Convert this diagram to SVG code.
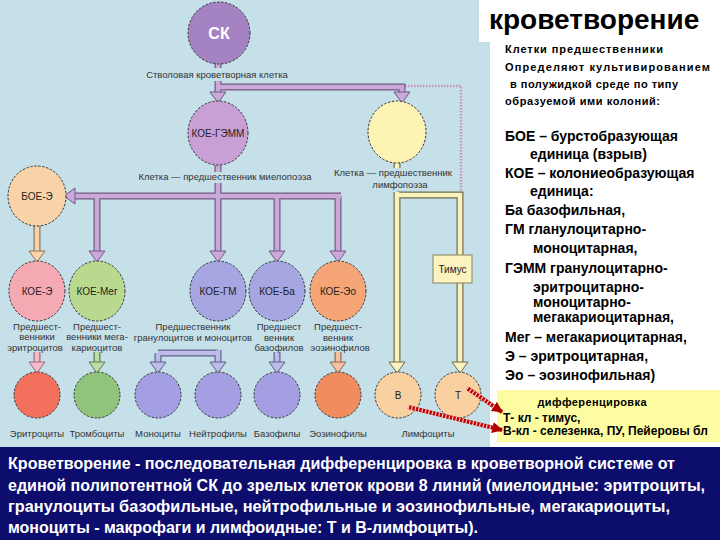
<svg xmlns="http://www.w3.org/2000/svg" xmlns:xlink="http://www.w3.org/1999/xlink" width="720" height="540" viewBox="0 0 720 540">
<style>
text{font-family:"Liberation Sans",Arial,sans-serif}
.cell{stroke:#333;stroke-width:1;stroke-dasharray:2.5 1.5}
.lbl{font-size:10px;fill:#222;text-anchor:middle}
.cap{font-size:9.5px;fill:#333;text-anchor:middle}
.bo{fill:none;stroke-width:7;stroke-linecap:butt;stroke-linejoin:miter}
.bi{fill:none;stroke-width:4.6;stroke-linecap:butt;stroke-linejoin:miter}
.lavO{stroke:#6e5a80}.lavI{stroke:#caa9d9}
.yelO{stroke:#6e6a50}.yelI{stroke:#faf2bc}
.peaO{stroke:#8a7460}.peaI{stroke:#f8d4a8}
.pnkO{stroke:#9a6a78}.pnkI{stroke:#f4bccb}
.grnO{stroke:#5f7a50}.grnI{stroke:#bddca6}
.bluO{stroke:#60608a}.bluI{stroke:#bcbce9}
.orgO{stroke:#8a6a58}.orgI{stroke:#f6c0a0}
.ah{stroke-width:1}
.rt{font-size:14px;font-weight:bold;fill:#000}
.st{font-size:11px;font-weight:bold;fill:#000}
.bt{font-size:16px;font-weight:bold;fill:#fff}
</style>
<defs>
<path id="ahd" d="M-8,-11 H8 L0,0 Z"/>
<marker id="redarrow" viewBox="0 0 10 10" refX="9" refY="5" markerWidth="11" markerHeight="11" markerUnits="userSpaceOnUse" orient="auto">
<path d="M0,0 L10,5 L0,10 Z" fill="#b00000"/>
</marker>
</defs>

<!-- backgrounds -->
<rect x="0" y="0" width="490" height="447" fill="#c6e0e9"/>
<rect x="490" y="0" width="230" height="447" fill="#ffffff"/>
<rect x="479" y="0" width="241" height="42" fill="#ffffff"/>
<rect x="497" y="390" width="223" height="52" fill="#fdfca0"/>
<rect x="0" y="447" width="720" height="93" fill="#0d0d6d"/>

<g id="connectors">
<!-- pink dotted outline of lymphoid area -->
<path d="M402,86 H461 V194" fill="none" stroke="#c88fc0" stroke-width="2.5" stroke-dasharray="1.5 1.5"/>
<!-- myeloid lavender bands -->
<g class="bo lavO">
<path d="M218,63 V68"/><path d="M218,81 V93"/><path d="M218,87 H402 V93"/>
<path d="M218,165 V172"/><path d="M218,183 V251"/><path d="M74,196 H341"/>
<path d="M97,196 V251"/><path d="M277,196 V251"/><path d="M338,196 V251"/>
</g>
<g class="bi lavI">
<path d="M218,63 V68"/><path d="M218,81 V93"/><path d="M218,87 H402 V93"/>
<path d="M218,165 V172"/><path d="M218,183 V251"/><path d="M74,196 H341"/>
<path d="M97,196 V251"/><path d="M277,196 V251"/><path d="M338,196 V251"/>
</g>
<g fill="#caa9d9" stroke="#6e5a80" class="ah">
<use xlink:href="#ahd" transform="translate(218,103)"/>
<use xlink:href="#ahd" transform="translate(402,103)"/>
<use xlink:href="#ahd" transform="translate(97,262)"/>
<use xlink:href="#ahd" transform="translate(218,262)"/>
<use xlink:href="#ahd" transform="translate(277,262)"/>
<use xlink:href="#ahd" transform="translate(338,262)"/>
<use xlink:href="#ahd" transform="translate(64,196) rotate(90)"/>
</g>
<!-- peach BOE-E to KOE-E -->
<path class="bo peaO" d="M37,226 V251"/><path class="bi peaI" d="M37,226 V251"/>
<use xlink:href="#ahd" transform="translate(37,262)" fill="#f8d4a8" stroke="#8a7460"/>
<!-- lymphoid yellow bands -->
<g class="bo yelO"><path d="M397,163 V168"/><path d="M397,192 V362"/><path d="M397,195 H460 V362"/></g>
<g class="bi yelI"><path d="M397,163 V168"/><path d="M397,192 V362"/><path d="M397,195 H460 V362"/></g>
<g fill="#faf2bc" stroke="#6e6a50" class="ah">
<use xlink:href="#ahd" transform="translate(397,373)"/>
<use xlink:href="#ahd" transform="translate(460,373)"/>
</g>
<!-- bottom arrows -->
<path class="bo pnkO" d="M37,352 V362"/><path class="bi pnkI" d="M37,352 V362"/>
<use xlink:href="#ahd" transform="translate(37,373)" fill="#f4bccb" stroke="#9a6a78"/>
<path class="bo grnO" d="M97,352 V362"/><path class="bi grnI" d="M97,352 V362"/>
<use xlink:href="#ahd" transform="translate(97,373)" fill="#bddca6" stroke="#5f7a50"/>
<g class="bo bluO"><path d="M218,350 V362"/><path d="M158,353 H218"/><path d="M158,353 V362"/><path d="M277,352 V362"/></g>
<g class="bi bluI"><path d="M218,350 V362"/><path d="M158,353 H218"/><path d="M158,353 V362"/><path d="M277,352 V362"/></g>
<g fill="#bcbce9" stroke="#60608a" class="ah">
<use xlink:href="#ahd" transform="translate(158,373)"/>
<use xlink:href="#ahd" transform="translate(218,373)"/>
<use xlink:href="#ahd" transform="translate(277,373)"/>
</g>
<path class="bo orgO" d="M338,352 V362"/><path class="bi orgI" d="M338,352 V362"/>
<use xlink:href="#ahd" transform="translate(338,373)" fill="#f6c0a0" stroke="#8a6a58"/>
</g>

<g id="thymus">
<rect x="433" y="255" width="39" height="28" fill="#fcf3c0" stroke="#8a8060" stroke-width="1"/>
<text class="lbl" x="452.5" y="273">Тимус</text>
</g>

<g id="sk">
<ellipse class="cell" cx="219" cy="33" rx="31" ry="31" fill="#a583c3"/>
<text x="219" y="39" font-size="16" font-weight="bold" fill="#fff" text-anchor="middle">СК</text>
<text class="cap" x="217" y="78">Стволовая кроветворная клетка</text>
</g>
<g id="koe-gemm">
<ellipse class="cell" cx="218" cy="133" rx="30" ry="32" fill="#c9a0d6"/>
<text class="lbl" x="218" y="137">КОЕ-ГЭММ</text>
<text class="cap" x="225" y="180">Клетка — предшественник миелопоэза</text>
</g>
<g id="lymph-precursor">
<ellipse class="cell" cx="397" cy="132" rx="29" ry="31" fill="#fcf3b4"/>
<text class="cap" x="393" y="176">Клетка — предшественник</text>
<text class="cap" x="400" y="188">лимфопоэза</text>
</g>
<g id="boe-e">
<ellipse class="cell" cx="37" cy="196" rx="29" ry="30" fill="#f9d3a7"/>
<text class="lbl" x="37" y="200">БОЕ-Э</text>
</g>
<g id="koe-e">
<ellipse class="cell" cx="37" cy="291" rx="28" ry="30" fill="#f4a9b3"/>
<text class="lbl" x="37" y="295">КОЕ-Э</text>
<text class="cap" x="37" y="330">Предшест-</text>
<text class="cap" x="37" y="340">венники</text>
<text class="cap" x="35" y="351">эритроцитов</text>
</g>
<g id="koe-meg">
<ellipse class="cell" cx="97" cy="291" rx="28" ry="30" fill="#b9da8e"/>
<text class="lbl" x="97" y="295">КОЕ-Мег</text>
<text class="cap" x="97" y="330">Предшест-</text>
<text class="cap" x="97" y="340">венники мега-</text>
<text class="cap" x="97" y="351">кариоцитов</text>
</g>
<g id="koe-gm">
<ellipse class="cell" cx="218" cy="291" rx="28" ry="30" fill="#a6a6e2"/>
<text class="lbl" x="218" y="295">КОЕ-ГМ</text>
<text class="cap" x="193" y="330">Предшественник</text>
<text class="cap" x="193" y="341">гранулоцитов и моноцитов</text>
</g>
<g id="koe-ba">
<ellipse class="cell" cx="277" cy="291" rx="28" ry="30" fill="#a6a6e2"/>
<text class="lbl" x="277" y="295">КОЕ-Ба</text>
<text class="cap" x="279" y="330">Предшест</text>
<text class="cap" x="279" y="341">венник</text>
<text class="cap" x="279" y="351">базофилов</text>
</g>
<g id="koe-eo">
<ellipse class="cell" cx="338" cy="291" rx="28" ry="30" fill="#f6a676"/>
<text class="lbl" x="338" y="295">КОЕ-Эо</text>
<text class="cap" x="338" y="330">Предшест-</text>
<text class="cap" x="338" y="341">венник</text>
<text class="cap" x="340" y="351">эозинофилов</text>
</g>

<g id="erythrocytes">
<ellipse class="cell" cx="37" cy="395" rx="23" ry="23" fill="#f2705c"/>
<text class="cap" x="37" y="437">Эритроциты</text>
</g>
<g id="thrombocytes">
<ellipse class="cell" cx="97" cy="395" rx="23" ry="23" fill="#8fc47a"/>
<text class="cap" x="97" y="437">Тромбоциты</text>
</g>
<g id="monocytes">
<ellipse class="cell" cx="158" cy="395" rx="23" ry="23" fill="#a49ee2"/>
<text class="cap" x="158" y="437">Моноциты</text>
</g>
<g id="neutrophils">
<ellipse class="cell" cx="218" cy="395" rx="23" ry="23" fill="#a49ee2"/>
<text class="cap" x="218" y="437">Нейтрофилы</text>
</g>
<g id="basophils">
<ellipse class="cell" cx="277" cy="395" rx="23" ry="23" fill="#a49ee2"/>
<text class="cap" x="277" y="437">Базофилы</text>
</g>
<g id="eosinophils">
<ellipse class="cell" cx="338" cy="395" rx="23" ry="23" fill="#f08c5e"/>
<text class="cap" x="338" y="437">Эозинофилы</text>
</g>
<g id="b-cell">
<ellipse class="cell" cx="398" cy="395" rx="23" ry="23" fill="#f9d0a0"/>
<text class="lbl" x="398" y="399" fill="#7a4a3a">В</text>
</g>
<g id="t-cell">
<ellipse class="cell" cx="458" cy="395" rx="23" ry="23" fill="#f9d0a0"/>
<text class="lbl" x="458" y="399" fill="#7a4a3a">Т</text>
</g>
<text class="cap" x="428" y="437">Лимфоциты</text>

<g id="red-arrows">
<line x1="467" y1="388" x2="502" y2="412" stroke="#c00000" stroke-width="4" marker-end="url(#redarrow)"/>
<line x1="467" y1="388" x2="494" y2="406.5" stroke="#fff" stroke-width="4" stroke-dasharray="1.2 2.3" opacity="0.8"/>
<line x1="408" y1="407" x2="502" y2="430" stroke="#c00000" stroke-width="4" marker-end="url(#redarrow)"/>
<line x1="408" y1="407" x2="493" y2="428" stroke="#fff" stroke-width="4" stroke-dasharray="1.2 2.3" opacity="0.8"/>
</g>

<g id="title">
<text x="489" y="29" font-size="28" font-weight="bold" fill="#000">кроветворение</text>
<text class="st" x="505" y="53" textLength="158" lengthAdjust="spacing">Клетки предшественники</text>
<text class="st" x="505" y="71" textLength="205" lengthAdjust="spacing">Определяют культивированием</text>
<text class="st" x="510" y="88" textLength="168" lengthAdjust="spacing">в полужидкой среде по типу</text>
<text class="st" x="505" y="105" textLength="155" lengthAdjust="spacing">образуемой ими колоний:</text>
</g>
<g id="legend">
<text class="rt" x="505" y="141">БОЕ – бурстобразующая</text>
<text class="rt" x="530" y="159">единица (взрыв)</text>
<text class="rt" x="505" y="178">КОЕ – колониеобразующая</text>
<text class="rt" x="530" y="196">единица:</text>
<text class="rt" x="505" y="215">Ба базофильная,</text>
<text class="rt" x="505" y="234">ГМ гланулоцитарно-</text>
<text class="rt" x="533" y="253">моноцитарная,</text>
<text class="rt" x="505" y="273">ГЭММ гранулоцитарно-</text>
<text class="rt" x="533" y="292">эритроцитарно-</text>
<text class="rt" x="533" y="307">моноцитарно-</text>
<text class="rt" x="533" y="322">мегакариоцитарная,</text>
<text class="rt" x="505" y="342">Мег – мегакариоцитарная,</text>
<text class="rt" x="505" y="361">Э – эритроцитарная,</text>
<text class="rt" x="505" y="380">Эо – эозинофильная)</text>
</g>
<g id="diff-note">
<text x="592" y="406" font-size="11" font-weight="bold" text-anchor="middle" textLength="109" lengthAdjust="spacing">дифференцировка</text>
<text x="503" y="422" font-size="12" font-weight="bold">Т- кл - тимус,</text>
<text x="503" y="435" font-size="12" font-weight="bold">В-кл - селезенка, ПУ, Пейеровы бл</text>
</g>
<g id="summary">
<text class="bt" x="8" y="469" textLength="667" lengthAdjust="spacingAndGlyphs">Кроветворение - последовательная дифференцировка в кроветворной системе от</text>
<text class="bt" x="8" y="491" textLength="697" lengthAdjust="spacingAndGlyphs">единой полипотентной СК до зрелых клеток крови 8 линий (миелоидные: эритроциты,</text>
<text class="bt" x="8" y="512" textLength="662" lengthAdjust="spacingAndGlyphs">гранулоциты базофильные, нейтрофильные и эозинофильные, мегакариоциты,</text>
<text class="bt" x="8" y="533" textLength="470" lengthAdjust="spacingAndGlyphs">моноциты - макрофаги и лимфоидные: Т и В-лимфоциты).</text>
</g>
</svg>
